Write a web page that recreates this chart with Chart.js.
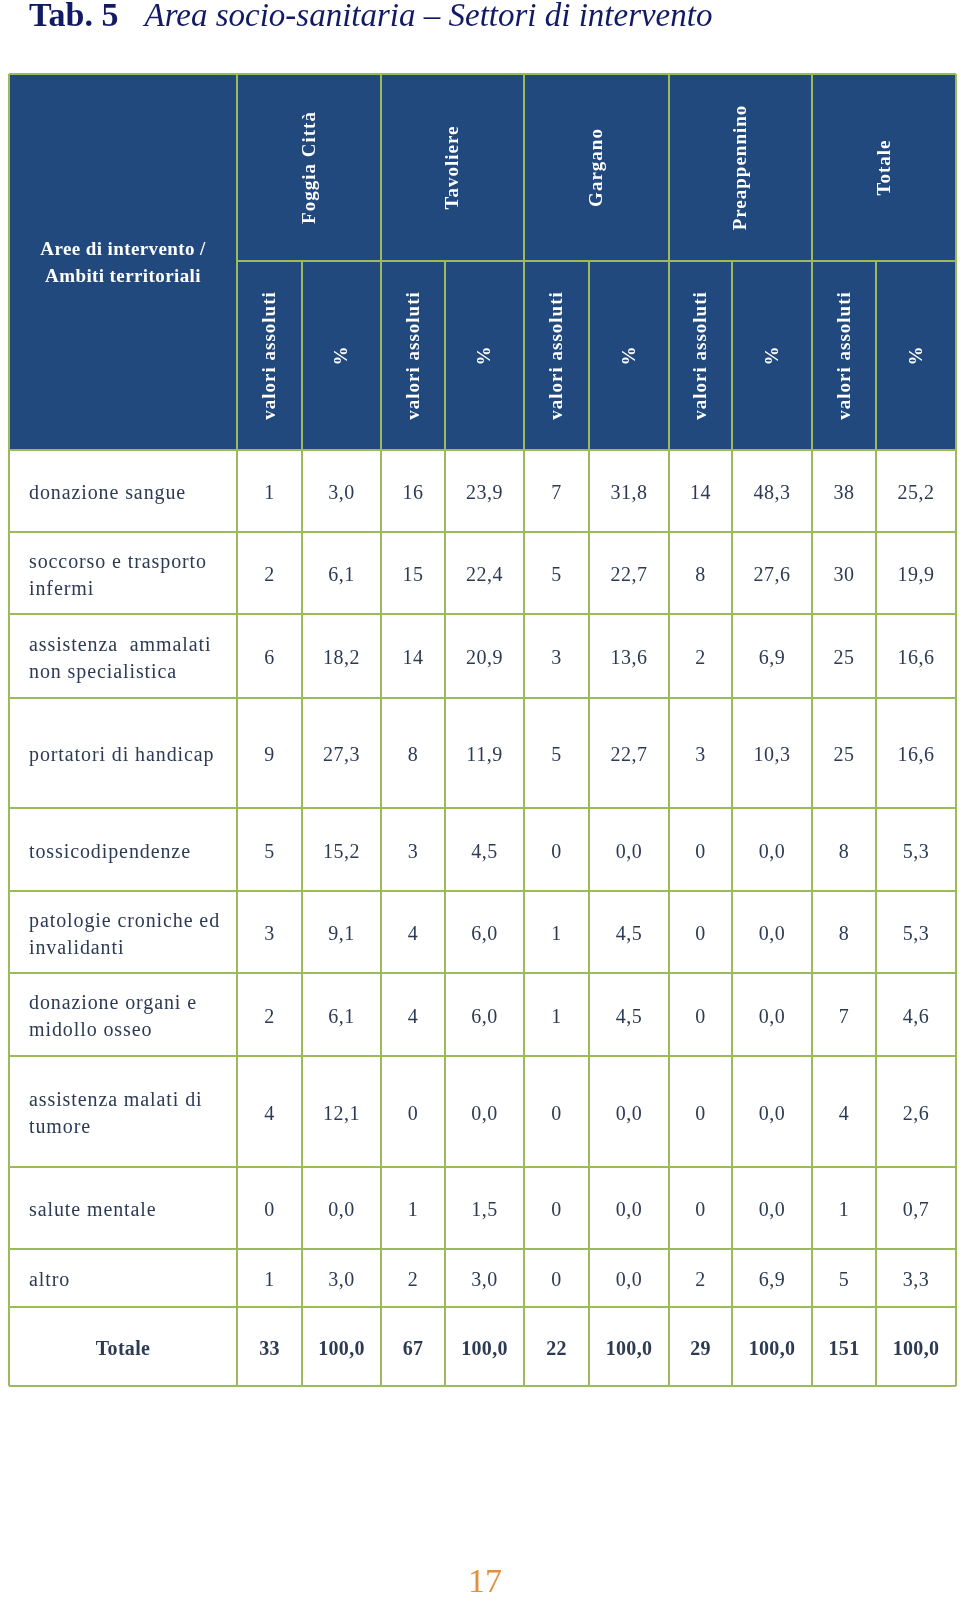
<!DOCTYPE html>
<html lang="it">
<head>
<meta charset="utf-8">
<title>Tab. 5 Area socio-sanitaria – Settori di intervento</title>
<script src="https://cdn.jsdelivr.net/npm/chart.js@4.4.0/dist/chart.umd.min.js"></script>
<style>
  html, body { margin: 0; padding: 0; background: #fff; }
  body { width: 960px; height: 1603px; position: relative; overflow: hidden; }
  #tableChart { position: absolute; left: 0; top: 0; }
  .title {
    position: absolute; left: 29px; top: -2px;
    font-family: "Liberation Serif", serif; color: #121a66;
    font-size: 34px; line-height: 34px; white-space: nowrap;
  }
  .title i { font-size: 33px; margin-left: 26px; }
  .page {
    position: absolute; left: 435px; width: 100px; top: 1564px; text-align: center;
    font-family: "Liberation Serif", serif; font-size: 34px; line-height: 34px; color: #e0913f;
  }
</style>
</head>
<body>
<canvas id="tableChart" width="960" height="1603"></canvas>
<div class="title"><b>Tab. 5</b><i>Area socio-sanitaria – Settori di intervento</i></div>
<div class="page">17</div>
<script>
// --- dati ---
const cornerLabel = ['Aree di intervento /', 'Ambiti territoriali'];
const areas = ['Foggia Città', 'Tavoliere', 'Gargano', 'Preappennino', 'Totale'];
const subHeaders = ['valori assoluti', '%'];
const categories = [
    ['donazione sangue'],
    ['soccorso e trasporto', 'infermi'],
    ['assistenza  ammalati', 'non specialistica'],
    ['portatori di handicap'],
    ['tossicodipendenze'],
    ['patologie croniche ed', 'invalidanti'],
    ['donazione organi e', 'midollo osseo'],
    ['assistenza malati di', 'tumore'],
    ['salute mentale'],
    ['altro']
];
const totalLabel = 'Totale';

const foggiaAbs = [1, 2, 6, 9, 5, 3, 2, 4, 0, 1];
const foggiaPct = [3.0, 6.1, 18.2, 27.3, 15.2, 9.1, 6.1, 12.1, 0.0, 3.0];
const tavoliereAbs = [16, 15, 14, 8, 3, 4, 4, 0, 1, 2];
const tavolierePct = [23.9, 22.4, 20.9, 11.9, 4.5, 6.0, 6.0, 0.0, 1.5, 3.0];
const garganoAbs = [7, 5, 3, 5, 0, 1, 1, 0, 0, 0];
const garganoPct = [31.8, 22.7, 13.6, 22.7, 0.0, 4.5, 4.5, 0.0, 0.0, 0.0];
const preappenninoAbs = [14, 8, 2, 3, 0, 0, 0, 0, 0, 2];
const preappenninoPct = [48.3, 27.6, 6.9, 10.3, 0.0, 0.0, 0.0, 0.0, 0.0, 6.9];
const totaleAbs = [38, 30, 25, 25, 8, 8, 7, 4, 1, 5];
const totalePct = [25.2, 19.9, 16.6, 16.6, 5.3, 5.3, 4.6, 2.6, 0.7, 3.3];

const totalsAbs = [33, 67, 22, 29, 151];
const totalsPct = [100.0, 100.0, 100.0, 100.0, 100.0];

// --- layout (larghezze/altezze delle celle) ---
const labelColWidth = 228;
const subColWidths = [[65, 79], [64, 79], [65, 80], [63, 80], [64, 80]];
const headerHeights = [187, 189];
const rowHeights = [82, 82, 84, 110, 83, 82, 83, 111, 82, 58, 79];

const headerBlue = '#21497d';
const gridGreen = '#9bbb59';
const textColor = '#2c3a54';
const serif = '"Liberation Serif", "Times New Roman", serif';

const absBySeries = [foggiaAbs, tavoliereAbs, garganoAbs, preappenninoAbs, totaleAbs];
const pctBySeries = [foggiaPct, tavolierePct, garganoPct, preappenninoPct, totalePct];

const colEdges = [0, labelColWidth];
subColWidths.forEach(pair => pair.forEach(w => colEdges.push(colEdges[colEdges.length - 1] + w)));
const rowEdges = [0];
headerHeights.concat(rowHeights).forEach(h => rowEdges.push(rowEdges[rowEdges.length - 1] + h));
const tableWidth = colEdges[colEdges.length - 1];
const tableHeight = rowEdges[rowEdges.length - 1];

const fmtPct = v => v.toFixed(1).replace('.', ',');

const tablePlugin = {
    id: 'tableGrid',
    afterDraw(chart) {
        const { ctx, scales: { x, y } } = chart;
        const X = v => x.getPixelForValue(v);
        const Y = v => y.getPixelForValue(v);
        const hdrBottom = rowEdges[2];

        ctx.save();

        // header background
        ctx.fillStyle = headerBlue;
        ctx.fillRect(X(0), Y(0), X(tableWidth) - X(0), Y(hdrBottom) - Y(0));

        // corner label
        ctx.fillStyle = '#ffffff';
        ctx.textAlign = 'center';
        ctx.textBaseline = 'alphabetic';
        ctx.font = `bold 19px ${serif}`;
        ctx.letterSpacing = '0.4px';
        const cx0 = (X(colEdges[0]) + X(colEdges[1])) / 2;
        const cy0 = (Y(0) + Y(hdrBottom)) / 2;
        cornerLabel.forEach((line, i) => {
            ctx.fillText(line, cx0, cy0 + 6 + (i - (cornerLabel.length - 1) / 2) * 27);
        });

        // rotated group + sub headers
        const rotText = (text, cx, cy) => {
            ctx.save();
            ctx.translate(cx, cy);
            ctx.rotate(-Math.PI / 2);
            ctx.fillText(text, 0, 0);
            ctx.restore();
        };
        ctx.textBaseline = 'middle';
        ctx.font = `bold 19px ${serif}`;
        ctx.letterSpacing = '1px';
        areas.forEach((name, g) => {
            const left = colEdges[1 + g * 2], right = colEdges[3 + g * 2];
            rotText(name, (X(left) + X(right)) / 2 + 1, (Y(rowEdges[0]) + Y(rowEdges[1])) / 2);
            subHeaders.forEach((sub, s) => {
                const l = colEdges[1 + g * 2 + s], r = colEdges[2 + g * 2 + s];
                rotText(sub, (X(l) + X(r)) / 2 + 1, (Y(rowEdges[1]) + Y(rowEdges[2])) / 2);
            });
        });

        // body
        ctx.fillStyle = textColor;
        ctx.textBaseline = 'alphabetic';
        const rowBase = r => (Y(rowEdges[r + 2]) + Y(rowEdges[r + 3])) / 2 + 8;
        const colCenter = c => (X(colEdges[c]) + X(colEdges[c + 1])) / 2;

        categories.forEach((lines, r) => {
            const by = rowBase(r);
            ctx.font = `20px ${serif}`;
            ctx.letterSpacing = '0.9px';
            ctx.textAlign = 'left';
            lines.forEach((line, i) => {
                ctx.fillText(line, X(colEdges[0]) + 20, by + (i - (lines.length - 1) / 2) * 27);
            });
            ctx.textAlign = 'center';
            ctx.letterSpacing = '0.5px';
            absBySeries.forEach((series, g) => {
                ctx.fillText(String(series[r]), colCenter(1 + g * 2), by);
                ctx.fillText(fmtPct(pctBySeries[g][r]), colCenter(2 + g * 2), by);
            });
        });

        // totals row
        const ty = rowBase(categories.length);
        ctx.font = `bold 20px ${serif}`;
        ctx.letterSpacing = '0.3px';
        ctx.textAlign = 'center';
        ctx.fillText(totalLabel, colCenter(0), ty);
        totalsAbs.forEach((v, g) => {
            ctx.fillText(String(v), colCenter(1 + g * 2), ty);
            ctx.fillText(fmtPct(totalsPct[g]), colCenter(2 + g * 2), ty);
        });

        // grid lines
        ctx.strokeStyle = gridGreen;
        ctx.lineWidth = 2;
        ctx.beginPath();
        rowEdges.forEach((e, i) => {
            const from = i === 1 ? colEdges[1] : 0;
            ctx.moveTo(X(from), Y(e));
            ctx.lineTo(X(tableWidth), Y(e));
        });
        colEdges.forEach((e, i) => {
            const isSub = i >= 2 && i % 2 === 0;
            ctx.moveTo(X(e), Y(isSub ? rowEdges[1] : 0));
            ctx.lineTo(X(e), Y(tableHeight));
        });
        ctx.stroke();

        ctx.restore();
    }
};

new Chart(document.getElementById('tableChart'), {
    type: 'scatter',
    data: { datasets: [] },
    options: {
        responsive: false,
        maintainAspectRatio: false,
        devicePixelRatio: 1,
        animation: false,
        layout: { padding: { left: 9, top: 74, right: 4, bottom: 217 } },
        scales: {
            x: { type: 'linear', min: 0, max: tableWidth, display: false },
            y: { type: 'linear', min: 0, max: tableHeight, reverse: true, display: false }
        },
        plugins: {
            legend: { display: false },
            tooltip: { enabled: false }
        }
    },
    plugins: [tablePlugin]
});
</script>
</body>
</html>
